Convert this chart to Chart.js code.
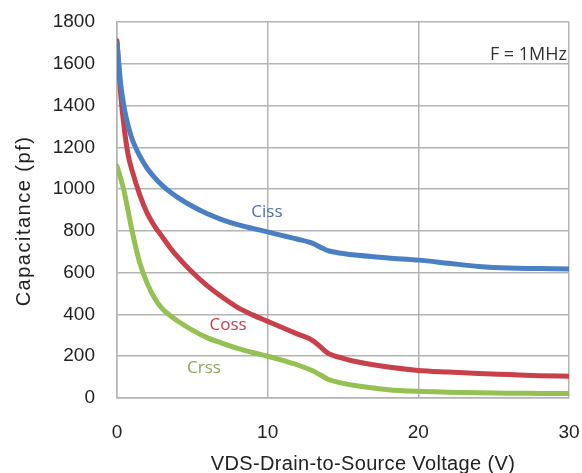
<!DOCTYPE html>
<html>
<head>
<meta charset="utf-8">
<script src="https://cdn.jsdelivr.net/npm/chart.js@4.4.1/dist/chart.umd.min.js"></script>
<style>
  html, body { margin: 0; padding: 0; background: #fff; }
</style>
</head>
<body>
<canvas id="capChart" width="582" height="473"></canvas>
<script>
// VDS sample points (V)
const vds  = [0, 0.25, 0.5, 0.75, 1, 1.5, 2, 2.5, 3, 3.5, 4, 5, 6, 7, 8, 9, 10, 11, 12, 13, 13.5, 14, 15, 16, 18, 20, 22, 24, 26, 28, 30];
// capacitances (pF)
const ciss = [1700, 1500, 1380, 1300, 1240, 1160, 1100, 1055, 1018, 988, 962, 918, 882, 853, 830, 812, 795, 777, 760, 740, 722, 705, 692, 683, 670, 660, 645, 630, 622, 620, 618];
const coss = [1710, 1450, 1280, 1160, 1090, 975, 885, 822, 772, 722, 678, 602, 537, 482, 434, 398, 367, 336, 306, 275, 245, 215, 190, 172, 148, 132, 124, 117, 112, 107, 104];
const crss = [1110, 1050, 980, 890, 800, 650, 550, 478, 428, 396, 370, 325, 288, 262, 238, 218, 200, 180, 158, 130, 110, 90, 70, 57, 40, 32, 28, 25, 23, 22, 21];

const xTicks = [0, 10, 20, 30];
const yMax = 1800, yStep = 200;

const colors = { ciss: '#4a7fc4', coss: '#c8404a', crss: '#94c152' };

const toPoints = ys => vds.map((v, i) => ({ x: v, y: ys[i] }));

// series names, anchored in data units
const curveLabels = [
  { text: 'Ciss', x: 9.95, y: 891, color: '#4d70a8' },
  { text: 'Coss', x: 7.37, y: 351, color: '#c0404a' },
  { text: 'Crss', x: 5.77, y: 141, color: '#8aa65a' }
];

const labelsPlugin = {
  id: 'labels',
  afterDraw(chart) {
    const { ctx, chartArea, scales } = chart;
    ctx.save();
    ctx.textAlign = 'center';
    ctx.textBaseline = 'middle';
    ctx.font = '17px "Open Sans", "Liberation Sans", sans-serif';
    curveLabels.forEach(l => {
      ctx.fillStyle = l.color;
      ctx.fillText(l.text, scales.x.getPixelForValue(l.x), scales.y.getPixelForValue(l.y));
    });
    // frequency note
    ctx.fillStyle = '#333';
    ctx.textAlign = 'right';
    ctx.font = '18px "Open Sans", "Liberation Sans", sans-serif';
    ctx.fillText('F = 1MHz', chartArea.right - 2, chartArea.top + 33);
    // axis titles
    ctx.fillStyle = '#222';
    ctx.textAlign = 'center';
    ctx.letterSpacing = '0.35px';
    ctx.font = '20px "Liberation Sans", Arial, sans-serif';
    ctx.fillText('VDS-Drain-to-Source Voltage (V)', (chartArea.left + chartArea.right) / 2 + 20, 464);
    ctx.letterSpacing = '1.5px';
    ctx.translate(24, (chartArea.top + chartArea.bottom) / 2 + 11);
    ctx.rotate(-Math.PI / 2);
    ctx.fillText('Capacitance (pf)', 0, 0);
    ctx.restore();
  }
};

const tickFont = { family: '"Liberation Sans", Arial, sans-serif', size: 19 };

new Chart(document.getElementById('capChart').getContext('2d'), {
  type: 'line',
  data: {
    datasets: [
      { label: 'Ciss', data: toPoints(ciss), borderColor: colors.ciss },
      { label: 'Coss', data: toPoints(coss), borderColor: colors.coss },
      { label: 'Crss', data: toPoints(crss), borderColor: colors.crss }
    ].map(ds => Object.assign(ds, {
      borderWidth: 5,
      pointRadius: 0,
      fill: false,
      cubicInterpolationMode: 'monotone',
      borderCapStyle: 'round',
      borderJoinStyle: 'round'
    }))
  },
  options: {
    responsive: false,
    animation: false,
    layout: { padding: { top: 22, right: 13, left: 0, bottom: 0 } },
    plugins: { legend: { display: false }, tooltip: { enabled: false } },
    scales: {
      x: {
        type: 'linear',
        min: 0, max: 30,
        afterBuildTicks: s => { s.ticks = xTicks.map(v => ({ value: v })); },
        afterFit: s => { s.height = 75; s.paddingLeft = 0; s.paddingRight = 0; },
        grid: { color: '#b4b4b4', lineWidth: 1.5, drawTicks: false },
        border: { color: '#b4b4b4', width: 1.5 },
        ticks: { padding: 23, color: '#222', font: tickFont, maxRotation: 0, callback: v => String(v) }
      },
      y: {
        min: 0, max: yMax,
        ticks: { stepSize: yStep, padding: 22, color: '#222', font: tickFont, callback: v => String(v) },
        afterFit: s => { s.width = 117; s.paddingTop = 0; s.paddingBottom = 0; },
        grid: { color: '#b4b4b4', lineWidth: 1.5, drawTicks: false },
        border: { color: '#b4b4b4', width: 1.5 }
      }
    }
  },
  plugins: [labelsPlugin]
});
</script>
</body>
</html>
